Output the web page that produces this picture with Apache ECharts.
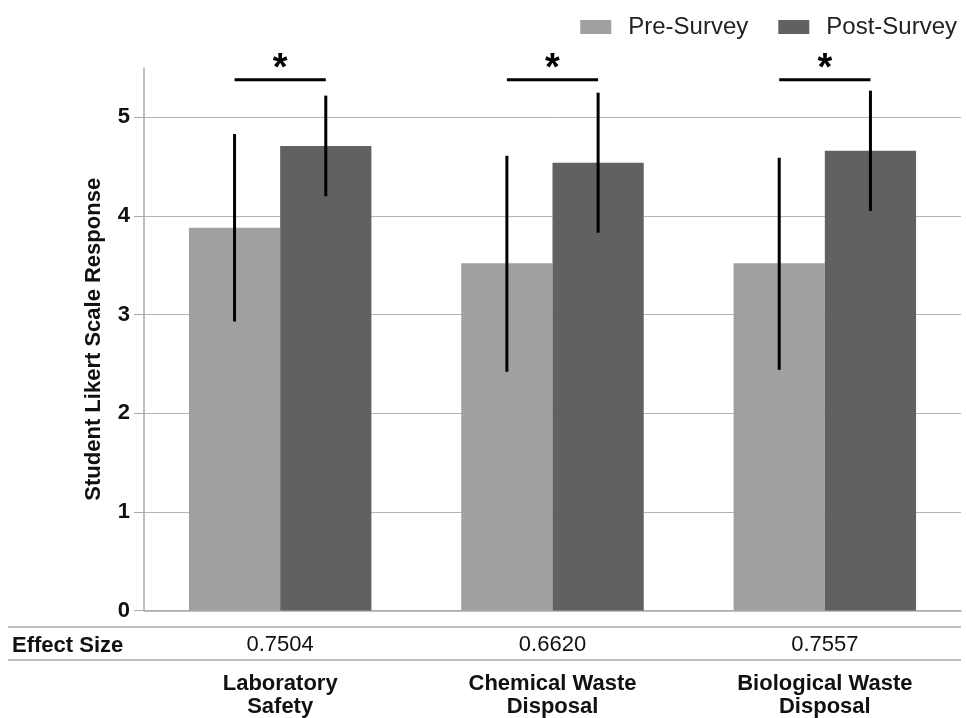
<!DOCTYPE html>
<html>
<head>
<meta charset="utf-8">
<script src="https://cdn.jsdelivr.net/npm/echarts@6/dist/echarts.min.js"></script>
<style>
  html, body { margin: 0; padding: 0; background: #fff; }
  #chart { width: 966px; height: 718px; }
</style>
</head>
<body>
<div id="chart"></div>
<script>
var categories = ['Laboratory\nSafety', 'Chemical Waste\nDisposal', 'Biological Waste\nDisposal'];
var effectSize = ['0.7504', '0.6620', '0.7557'];
var preMean = [3.88, 3.52, 3.52];
var postMean = [4.71, 4.54, 4.66];
var preLow = [2.93, 2.42, 2.44];
var preHigh = [4.83, 4.61, 4.59];
var postLow = [4.20, 3.83, 4.05];
var postHigh = [5.22, 5.25, 5.27];
var sigLevel = [5.38, 5.38, 5.38];
var sigMark = ['*', '*', '*'];

var font = 'Liberation Sans, Arial, sans-serif';
var barFrac = 0.335; // bar width as share of a category

var chart = echarts.init(document.getElementById('chart'));

function errData(low, high) {
  var out = [];
  for (var i = 0; i < categories.length; i++) out.push([i, low[i], high[i]]);
  return out;
}

function errSeries(name, low, high, side) {
  return {
    name: name,
    type: 'custom',
    z: 5,
    data: errData(low, high),
    renderItem: function (params, api) {
      var w = api.size([1, 0])[0];
      var off = side * w * barFrac / 2;
      var a = api.coord([api.value(0), api.value(1)]);
      var b = api.coord([api.value(0), api.value(2)]);
      return {
        type: 'line',
        shape: { x1: a[0] + off, y1: a[1], x2: b[0] + off, y2: b[1] },
        style: { stroke: '#000', lineWidth: 3 }
      };
    }
  };
}

var sigData = [];
for (var i = 0; i < categories.length; i++) sigData.push([i, sigLevel[i], sigMark[i]]);

var option = {
  animation: false,
  textStyle: { fontFamily: font },
  legend: {
    top: 10,
    right: 4,
    itemWidth: 31,
    itemHeight: 14,
    itemGap: 30,
    icon: 'rect',
    data: ['Pre-Survey', 'Post-Survey'],
    textStyle: { fontSize: 24, color: '#222', fontFamily: font, padding: [0, 0, 0, 12] }
  },
  grid: { left: 144, right: 5, top: 68, bottom: 106 },
  xAxis: {
    type: 'category',
    data: categories,
    axisLine: { lineStyle: { color: '#aaa', width: 1.5 } },
    axisTick: { alignWithLabel: true, length: 10, lineStyle: { color: '#aaa' } },
    axisLabel: {
      margin: 6,
      interval: 0,
      formatter: function (v, i) {
        var parts = v.split('\n');
        return '{e|' + effectSize[i] + '}\n{c|' + parts[0] + '}\n{c|' + parts[1] + '}';
      },
      rich: {
        e: { fontSize: 22, color: '#111', lineHeight: 56, fontFamily: font },
        c: { fontSize: 22, fontWeight: 'bold', color: '#111', lineHeight: 23, fontFamily: font }
      }
    }
  },
  yAxis: {
    type: 'value',
    min: 0,
    max: 5.5,
    interval: 1,
    name: 'Student Likert Scale Response',
    nameLocation: 'middle',
    nameGap: 39,
    nameTextStyle: { fontSize: 22, fontWeight: 'bold', color: '#111', fontFamily: font },
    axisLine: { show: true, lineStyle: { color: '#aaa', width: 1.5 } },
    axisTick: { show: true, length: 10, lineStyle: { color: '#aaa' } },
    axisLabel: { fontSize: 22, fontWeight: 'bold', color: '#111', margin: 14, fontFamily: font, showMaxLabel: false },
    splitLine: { showMaxLine: false, lineStyle: { color: '#b4b4b4', width: 1 } }
  },
  graphic: [
    { type: 'line', shape: { x1: 8, y1: 627, x2: 961, y2: 627 }, style: { stroke: '#aaa', lineWidth: 1.5 } },
    { type: 'line', shape: { x1: 8, y1: 660, x2: 961, y2: 660 }, style: { stroke: '#aaa', lineWidth: 1.5 } },
    { type: 'text', x: 12, y: 646, style: { text: 'Effect Size', font: 'bold 22px ' + font, fill: '#111', verticalAlign: 'middle' } }
  ],
  series: [
    {
      name: 'Pre-Survey', type: 'bar', data: preMean, barWidth: '33.5%', barGap: '0%',
      itemStyle: { color: '#a0a0a0' }
    },
    {
      name: 'Post-Survey', type: 'bar', data: postMean, barWidth: '33.5%', barGap: '0%',
      itemStyle: { color: '#616161' }
    },
    errSeries('preErr', preLow, preHigh, -1),
    errSeries('postErr', postLow, postHigh, 1),
    {
      name: 'sig',
      type: 'custom',
      z: 6,
      clip: false,
      data: sigData,
      renderItem: function (params, api) {
        var w = api.size([1, 0])[0];
        var off = w * barFrac / 2;
        var p = api.coord([api.value(0), api.value(1)]);
        return {
          type: 'group',
          children: [
            { type: 'line', shape: { x1: p[0] - off, y1: p[1], x2: p[0] + off, y2: p[1] },
              style: { stroke: '#000', lineWidth: 3 } },
            { type: 'text', x: p[0], y: p[1] - 10,
              style: { text: sigData[params.dataIndex][2], font: 'bold 38px ' + font, fill: '#000',
                       align: 'center', verticalAlign: 'middle' } }
          ]
        };
      }
    }
  ]
};

chart.setOption(option);
</script>
</body>
</html>
